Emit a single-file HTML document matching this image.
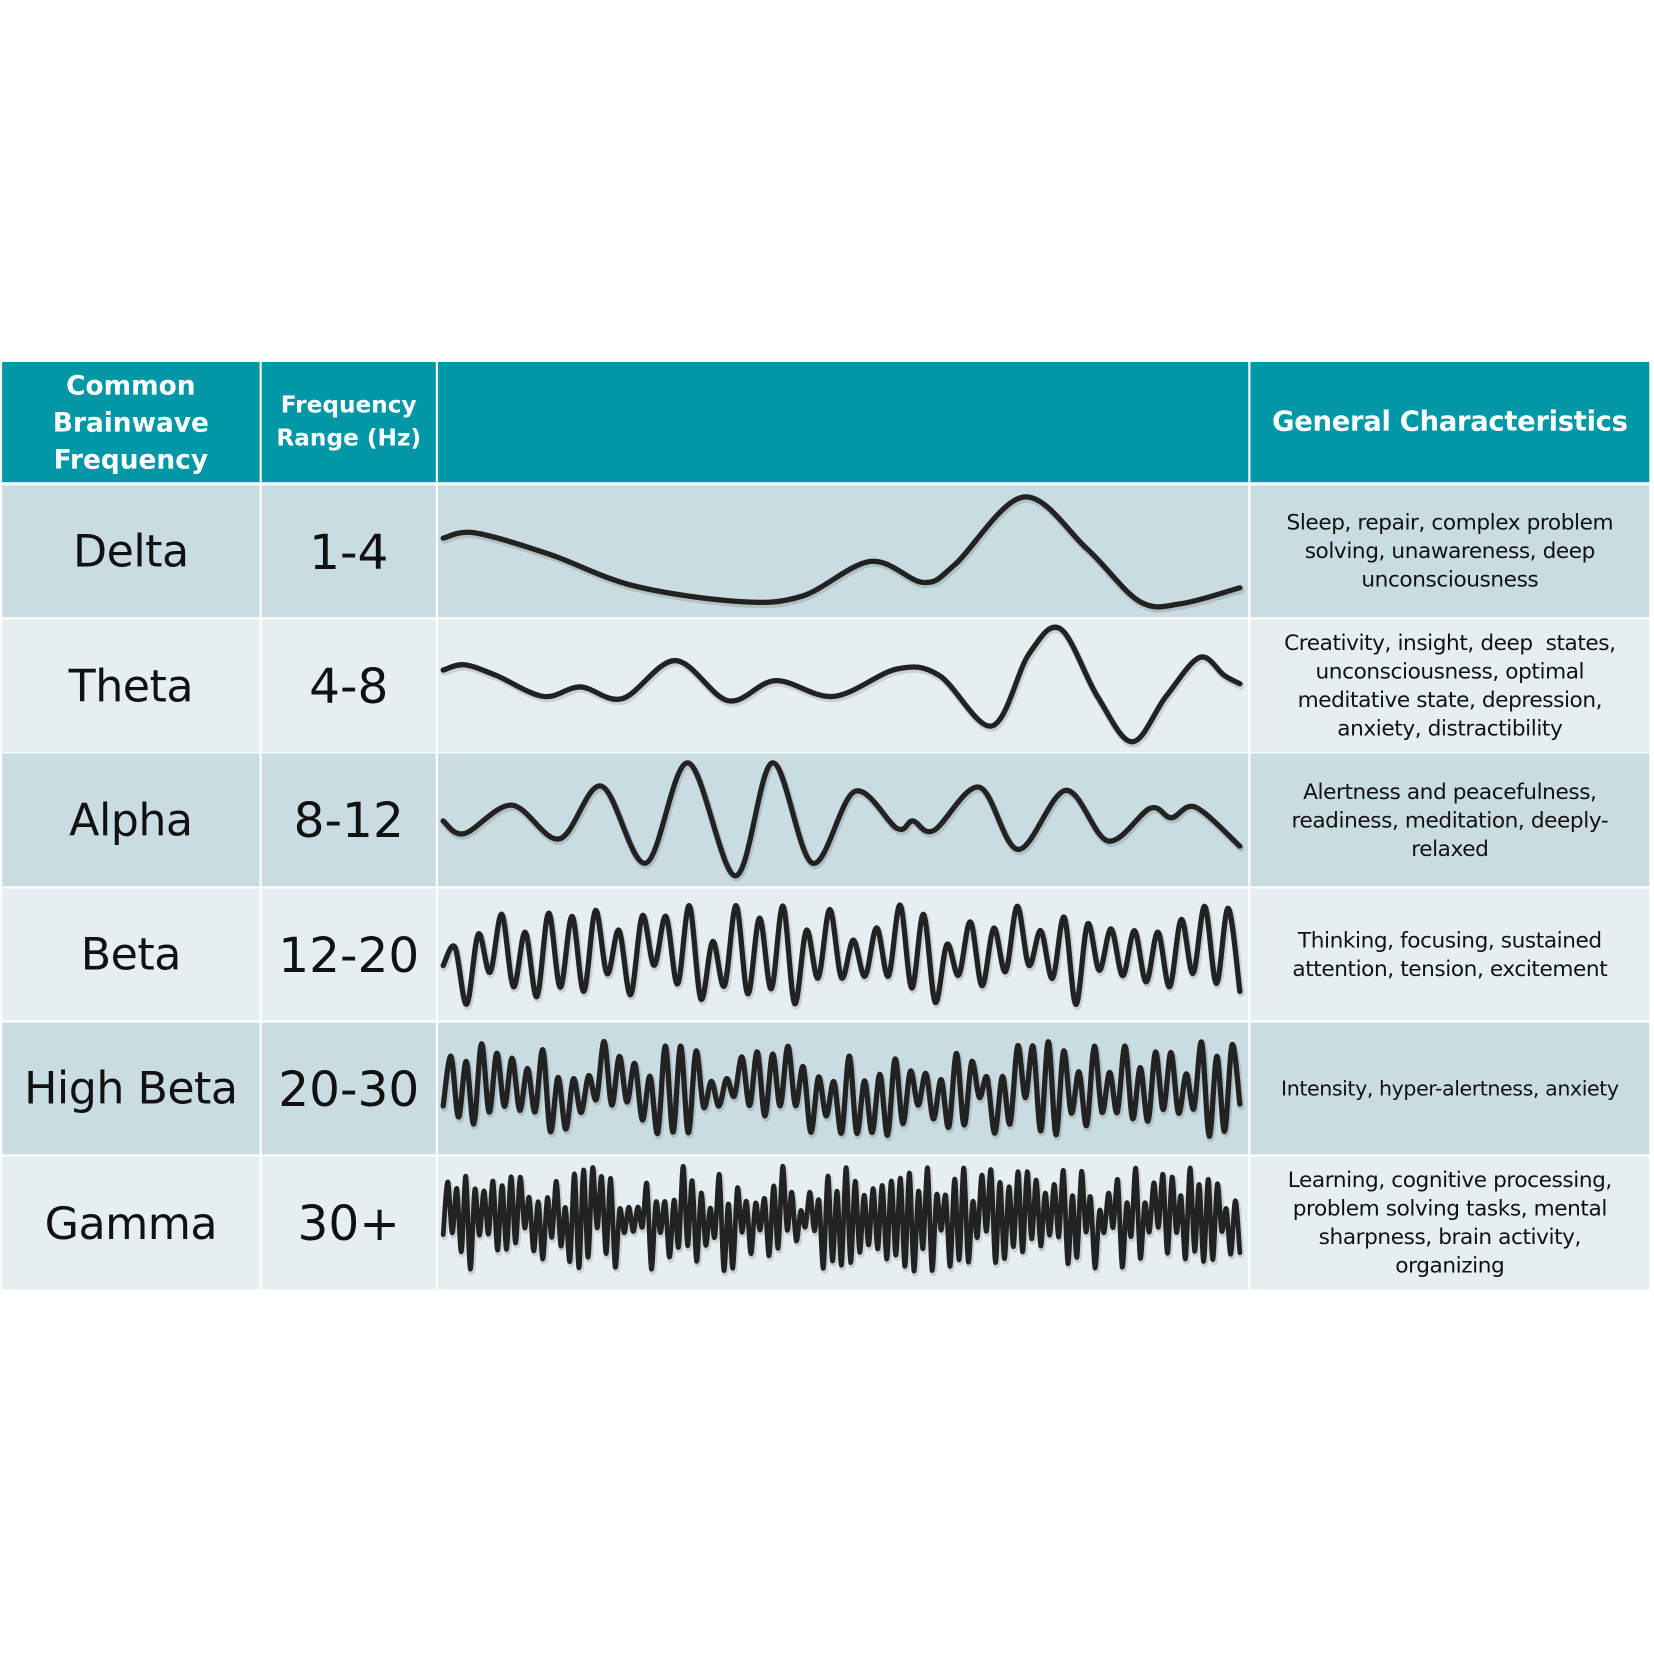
<!DOCTYPE html>
<html><head><meta charset="utf-8">
<style>
html,body{margin:0;padding:0;background:#fff;}
body{width:1654px;height:1654px;overflow:hidden;position:relative;}
#s{position:absolute;left:0;top:0;width:1564px;height:1564px;transform:scale(1.0552);transform-origin:0 0;}
.c{position:absolute;display:flex;align-items:center;justify-content:center;text-align:center;font-family:"DejaVu Sans","Liberation Sans",sans-serif;color:#111;box-sizing:border-box;}
.h{background:#0097a7;color:#fff;font-weight:bold;}
.a{background:#c9dce1;}
.b{background:#e5eef0;}
.n{font-size:42px;letter-spacing:-0.5px;}
.r{font-size:46px;}
.t{font-size:20.5px;line-height:27px;letter-spacing:-0.4px;padding:0 4px;}
svg{position:absolute;left:0;top:0;}
</style></head><body><div id="s">
<div class="c h" style="left:2px;top:343px;width:244px;height:114px;font-size:25px;line-height:35px;">Common<br>Brainwave<br>Frequency</div>
<div class="c h" style="left:248px;top:343px;width:165px;height:114px;font-size:22px;line-height:31px;">Frequency<br>Range (Hz)</div>
<div class="c h" style="left:415px;top:343px;width:768px;height:114px;"></div>
<div class="c h" style="left:1185px;top:343px;width:378px;height:114px;font-size:26px;white-space:nowrap;letter-spacing:-0.3px;">General Characteristics</div>

<div id="rows"></div>
<svg id="w" width="1564" height="1564" viewBox="0 0 1564 1564"></svg>
</div>
<script>
var rows=[
["Delta","1-4","Sleep, repair, complex problem<br>solving, unawareness, deep<br>unconsciousness",460,125,"a"],
["Theta","4-8","Creativity, insight, deep&nbsp; states,<br>unconsciousness, optimal<br>meditative state, depression,<br>anxiety, distractibility",587,126,"b"],
["Alpha","8-12","Alertness and peacefulness,<br>readiness, meditation, deeply-<br>relaxed",714,126,"a"],
["Beta","12-20","Thinking, focusing, sustained<br>attention, tension, excitement",842,125,"b"],
["High Beta","20-30","Intensity, hyper-alertness, anxiety",969,125,"a"],
["Gamma","30+","Learning, cognitive processing,<br>problem solving tasks, mental<br>sharpness, brain activity,<br>organizing",1096,126,"b"]];
var h="";
rows.forEach(function(r){
 var st="top:"+r[3]+"px;height:"+r[4]+"px;";
 h+='<div class="c n '+r[5]+'" style="left:2px;width:244px;'+st+'">'+r[0]+'</div>';
 h+='<div class="c r '+r[5]+'" style="left:248px;width:165px;'+st+'">'+r[1]+'</div>';
 h+='<div class="c '+r[5]+'" style="left:415px;width:768px;'+st+'"></div>';
 h+='<div class="c t '+r[5]+'" style="left:1185px;width:378px;'+st+(r[0]=="High Beta"?"white-space:nowrap;font-size:19.5px;":"")+'">'+r[2]+'</div>';
});
document.getElementById("rows").innerHTML=h;
function cr(p){var d="M"+p[0][0]+","+p[0][1];for(var i=0;i<p.length-1;i++){var p0=p[i-1]||p[i],p1=p[i],p2=p[i+1],p3=p[i+2]||p2;
d+=" C"+(p1[0]+(p2[0]-p0[0])/6).toFixed(1)+","+(p1[1]+(p2[1]-p0[1])/6).toFixed(1)+" "+(p2[0]-(p3[0]-p1[0])/6).toFixed(1)+","+(p2[1]-(p3[1]-p1[1])/6).toFixed(1)+" "+p2[0]+","+p2[1];}return d;}
var W=[
[[420,510],[450,505],[520,525],[600,555],[700,570],[760,565],[825,532],[875,552],[905,535],[970,471],[1030,520],[1080,570],[1120,572],[1175,557]],
[[420,635],[440,630],[470,640],[515,660],[550,651],[590,662],[640,626],[690,664],[735,645],[790,660],[850,634],[890,640],[940,688],[975,620],[1005,596],[1040,660],[1073,703],[1105,660],[1137,623],[1160,640],[1175,648]],
[[420,778],[440,790],[485,763],[530,795],[570,745],[612,818],[652,723],[697,830],[732,723],[770,818],[810,750],[850,785],[865,778],[885,787],[928,746],[965,805],[1010,749],[1050,797],[1090,766],[1110,775],[1133,765],[1175,802]]];
var seed=7;function rnd(){seed=(seed*16807)%2147483647;return seed/2147483647;}
function noisy(cy,n,amp,y0){var p=[[420,y0]];var dx=755/n;for(var i=1;i<=n;i++){var x=420+i*dx;var s=(i%2?-1:1);var a=amp*(0.15+0.85*rnd());p.push([+x.toFixed(1),+(cy+s*a).toFixed(1)]);}return p;}
W.push(noisy(905,68,50,915));
W.push(noisy(1032,104,45,1048));
W.push(noisy(1155,176,50,1170));
var sv="";
W.forEach(function(p,i){var d=cr(p);var sw=i<3?5:(i<5?5:4.5);
sv+='<path d="'+d+'" fill="none" stroke="rgba(0,0,0,0.12)" stroke-width="'+(sw+2)+'" stroke-linejoin="round" stroke-linecap="round" transform="translate(1,2)"/>';
sv+='<path d="'+d+'" fill="none" stroke="#222" stroke-width="'+sw+'" stroke-linejoin="round" stroke-linecap="round"/>';});
document.getElementById("w").innerHTML=sv;
</script>
</body></html>
